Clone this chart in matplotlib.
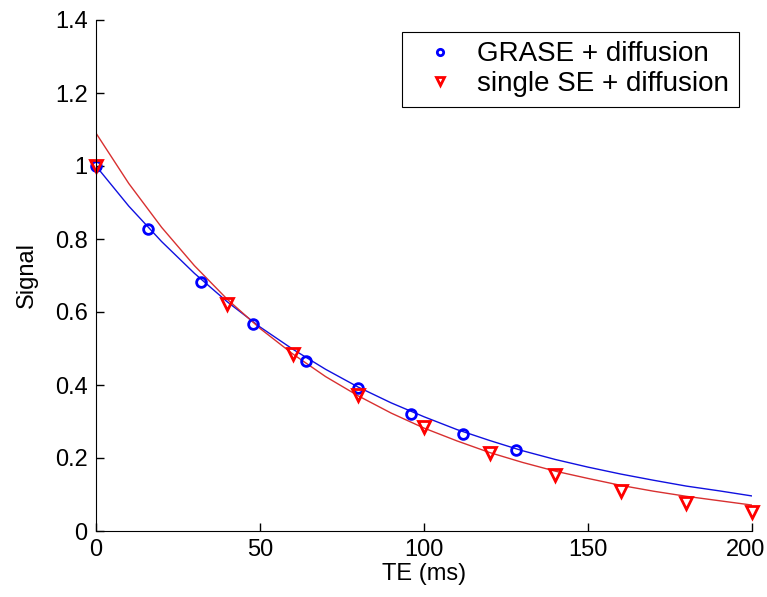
"""GRASE vs single spin-echo signal decay, with diffusion (MATLAB-style figure)."""

import matplotlib
matplotlib.use("Agg")
import matplotlib.pyplot as plt
from matplotlib.ticker import FormatStrFormatter
from matplotlib.transforms import ScaledTranslation

plt.rcParams["font.family"] = ["Liberation Sans", "DejaVu Sans"]

# --- measured points ----------------------------------------------------------
grase_te = [0, 16, 32, 48, 64, 80, 96, 112, 128]
grase_sig = [1.0, 0.827, 0.682, 0.567, 0.466, 0.392, 0.320, 0.266, 0.222]

se_te = [0, 40, 60, 80, 100, 120, 140, 160, 180, 200]
se_sig = [1.0, 0.622, 0.485, 0.373, 0.285, 0.214, 0.153, 0.110, 0.077, 0.052]

# --- fitted curves, every 10 ms ------------------------------------------------
fit_te = [0, 10, 20, 30, 40, 50, 60, 70, 80, 90, 100,
          110, 120, 130, 140, 150, 160, 170, 180, 190, 200]
grase_fit = [1.000, 0.890, 0.793, 0.706, 0.628, 0.559, 0.498, 0.443, 0.394, 0.351, 0.313,
             0.278, 0.248, 0.220, 0.196, 0.175, 0.156, 0.139, 0.123, 0.110, 0.096]
se_fit = [1.090, 0.952, 0.832, 0.727, 0.635, 0.555, 0.485, 0.423, 0.370, 0.323, 0.282,
          0.247, 0.215, 0.188, 0.164, 0.144, 0.125, 0.109, 0.095, 0.083, 0.071]

fig = plt.figure(figsize=(7.67, 5.97), dpi=100)
# axes box: x 96..752 px, y 20..531 px
ax = fig.add_axes([96 / 767, 66 / 597, 656 / 767, 511 / 597])

ax.plot(fit_te, grase_fit, color="#1010e0", lw=1.0)
ax.plot(fit_te, se_fit, color="#d83030", lw=1.0)
ax.plot(grase_te, grase_sig, "o", ms=7, mfc="none", mec="#0000ff", mew=2.0,
        label="GRASE + diffusion", clip_on=False)
ax.plot(se_te, se_sig, "v", ms=8, mfc="none", mec="#ff0000", mew=2.0,
        label="single SE + diffusion", clip_on=False)

ax.set_xlim(0, 200)
ax.set_ylim(0, 1.4)
ax.set_xticks([0, 50, 100, 150, 200])
ax.set_yticks([0, 0.2, 0.4, 0.6, 0.8, 1.0, 1.2, 1.4])
ax.yaxis.set_major_formatter(FormatStrFormatter("%g"))
ax.tick_params(direction="in", length=6, width=1, labelsize=17)
ax.tick_params(axis="x", pad=6)
ax.tick_params(axis="y", pad=6)
ax.spines["top"].set_visible(False)
ax.spines["right"].set_visible(False)
ax.set_xlabel("TE (ms)", fontsize=17, labelpad=1)
ax.set_ylabel("Signal", fontsize=17, labelpad=12)

# nudge the last x label ("200") left so it stays inside the canvas
last = ax.get_xticklabels()[-1]
last.set_transform(last.get_transform() + ScaledTranslation(-6 / 100, 0, fig.dpi_scale_trans))

leg = ax.legend(loc="upper right", bbox_to_anchor=(0.980, 0.977), borderaxespad=0,
                fontsize=20, fancybox=False, edgecolor="black", framealpha=1,
                handlelength=2.0, handletextpad=0.35, markerscale=0.65,
                borderpad=0.35, labelspacing=0.12)
leg.get_frame().set_linewidth(0.8)

fig.savefig("out.png", dpi=100)
